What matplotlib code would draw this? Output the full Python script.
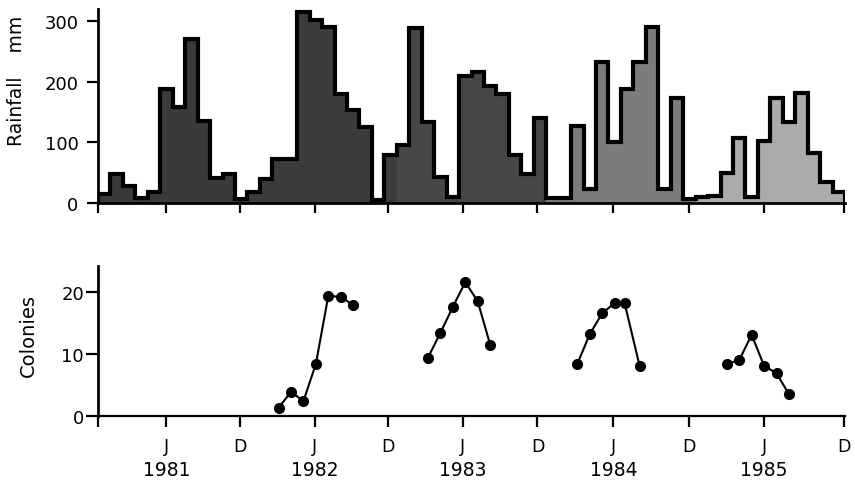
import matplotlib
matplotlib.use("Agg")
import matplotlib.pyplot as plt
import matplotlib.transforms as mtransforms
import numpy as np

plt.rcParams['font.family'] = ['DejaVu Sans']

# Monthly rainfall (mm), Jan 1981 .. Dec 1985
rain_1981 = [15, 48, 28, 8, 18, 188, 158, 270, 135, 42, 48, 7]
rain_1982 = [18, 40, 72, 72, 315, 302, 290, 180, 153, 125, 5, 80]
rain_1983 = [95, 288, 133, 43, 10, 209, 216, 193, 180, 80, 48, 140]
rain_1984 = [8, 8, 127, 23, 233, 100, 188, 232, 290, 23, 173, 7]
rain_1985 = [10, 12, 49, 108, 10, 102, 174, 133, 181, 82, 34, 18]
years = ['1981', '1982', '1983', '1984', '1985']
year_shades = ['#3a3a3a', '#3c3c3c', '#474747', '#7c7c7c', '#ababab']

# Colonies (month index from Jan 1981 = 0, value)
col_1982_m = [14, 15, 16, 17, 18, 19, 20]
col_1982_v = [1.3, 3.9, 2.4, 8.4, 19.4, 19.2, 17.9]
col_1983_m = [26, 27, 28, 29, 30, 31]
col_1983_v = [9.4, 13.4, 17.6, 21.6, 18.5, 11.5]
col_1984_m = [38, 39, 40, 41, 41.8, 43]
col_1984_v = [8.4, 13.2, 16.6, 18.2, 18.2, 8.1]
col_1985_m = [50, 51, 52, 53, 54, 55]
col_1985_v = [8.4, 9.0, 13.1, 8.1, 6.9, 3.5]

tick_pos = [0, 5.5, 11.4, 17.4, 23.3, 29.3, 35.3, 41.4, 47.5, 53.5, 59.9]
tick_lab = ['', 'J', 'D', 'J', 'D', 'J', 'D', 'J', 'D', 'J', 'D']
year_pos = [5.5, 17.4, 29.3, 41.4, 53.5]

rain = rain_1981 + rain_1982 + rain_1983 + rain_1984 + rain_1985
nmon = len(rain)
months = np.arange(nmon)
shades = [year_shades[i // 12] for i in range(nmon)]

fig = plt.figure(figsize=(8.55, 4.85), dpi=100)
ax1 = fig.add_axes([98/855, (485-204)/485, 747/855, 194/485])
ax2 = fig.add_axes([98/855, 68/485, 747/855, 150/485])

# Top: rainfall histogram
ax1.bar(months, rain, width=1.0, align='edge', color=shades, linewidth=0, zorder=2)
ax1.stairs(rain, np.arange(nmon + 1), baseline=0, color='black', linewidth=3.0,
           zorder=3)
ax1.set_xlim(0, 60)
ax1.set_ylim(0, 320)
ax1.set_yticks([0, 100, 200, 300])
ax1.set_xticks(tick_pos)
ax1.set_xticklabels([])
for s in ['top', 'right']:
    ax1.spines[s].set_visible(False)
ax1.spines['left'].set_linewidth(2.0)
ax1.spines['bottom'].set_linewidth(2.0)
ax1.tick_params(axis='x', direction='out', length=7.5, width=1.6)
ax1.tick_params(axis='y', direction='out', length=8, width=1.6, pad=6, labelsize=13)

# Bottom: colonies
for m, v in [(col_1982_m, col_1982_v), (col_1983_m, col_1983_v),
             (col_1984_m, col_1984_v), (col_1985_m, col_1985_v)]:
    ax2.plot(np.array(m) + 0.5, v, color='black', linewidth=1.5, marker='o',
             markersize=7, clip_on=False, zorder=3)
ax2.set_xlim(0, 60)
ax2.set_ylim(0, 24.2)
ax2.set_yticks([0, 10, 20])
ax2.set_xticks(tick_pos)
ax2.set_xticklabels(tick_lab)
for s in ['top', 'right']:
    ax2.spines[s].set_visible(False)
ax2.spines['left'].set_linewidth(2.0)
ax2.spines['bottom'].set_linewidth(1.6)
ax2.tick_params(axis='x', direction='out', length=8, width=1.6, pad=7, labelsize=12.5)
ax2.tick_params(axis='y', direction='out', length=9, width=1.6, pad=1, labelsize=13)

trans = mtransforms.blended_transform_factory(ax2.transData, ax2.transAxes)
for xp, yr in zip(year_pos, years):
    ax2.text(xp, -0.36, yr, transform=trans, ha='center', va='center', fontsize=13.5)

fig.text(17/855, 1 - 81/485, 'Rainfall    mm', rotation=90, ha='center',
         va='center', fontsize=13.5)
fig.text(28/855, 1 - 336/485, 'Colonies', rotation=90, ha='center',
         va='center', fontsize=14)

fig.savefig('out.png', dpi=100)
